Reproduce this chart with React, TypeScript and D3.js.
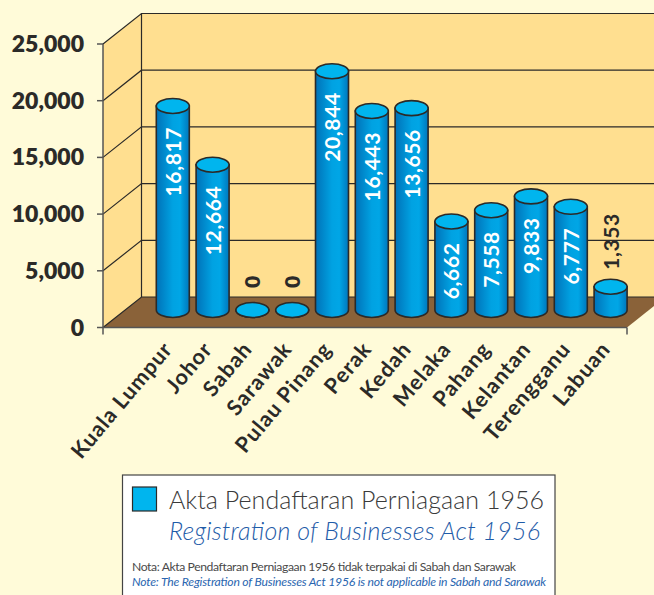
import React from "react";
import * as d3 from "d3";

// Region names and the printed labels
const categories = ["Kuala Lumpur", "Johor", "Sabah", "Sarawak", "Pulau Pinang", "Perak", "Kedah", "Melaka", "Pahang", "Kelantan", "Terengganu", "Labuan"];
const printedValues = [16817, 12664, 0, 0, 20844, 16443, 13656, 6662, 7558, 9833, 6777, 1353];
// The printed numbers do not agree with the drawn heights in the source; these are the drawn heights read against the axis
const drawnHeights = [17990, 12810, 0, 0, 21050, 17550, 17800, 7800, 8800, 10020, 9100, 2050];
const yTicks = [0, 5000, 10000, 15000, 20000, 25000];

const W = 654, H = 595;
const FONT = "Lato, 'Noto Sans', sans-serif";
const INK = "#2b2a28";

const depthX = 38.5, depthY = 30.5;
const frontX0 = 103, frontX1 = 627, frontY0 = 327.5;
const y = d3.scaleLinear().domain([0, 25000]).range([frontY0, frontY0 - 283.5]);
const barBase = frontY0 - 17.5; // bars stand in the middle of the floor
const x = d3.scalePoint<string>().domain(categories).range([172.8, 610.6]);
const rx = 16.5, ry = 7.5;
const fmt = d3.format(",");

export default function App() {
  const barY = (v: number) => y(v) - (frontY0 - barBase);
  const backX0 = frontX0 + depthX;
  const backX1 = frontX1 + depthX;
  const top = y(25000) - depthY;
  const bottom = y(0) - depthY;
  return (
    <svg width={W} height={H} style={{ position: "absolute", left: 0, top: 0, display: "block" }} fontFamily={FONT}>
      <defs>
        <linearGradient id="cyl" x1="0" x2="1" y1="0" y2="0">
          <stop offset="0" stopColor="#0072b8" />
          <stop offset="0.5" stopColor="#00a2e2" />
          <stop offset="0.72" stopColor="#00a6e6" />
          <stop offset="1" stopColor="#0076bc" />
        </linearGradient>
      </defs>
      <rect width={W} height={H} fill="#fffbd9" />
      {/* walls */}
      <path d={`M${frontX0},${y(25000)}L${backX0},${top}H${backX1}V${bottom}H${backX0}L${frontX0},${y(0)}Z`} fill="#ffdf90" stroke="none" />
      <path d={`M${frontX0},${y(0)}L${backX0},${bottom}H${backX1}L${frontX1},${y(0)}Z`} fill="#8a6239" stroke="none" />
      {yTicks.map((t) => (
        <g key={t}>
          <path d={`M${frontX0},${y(t)}L${backX0},${y(t) - depthY}H${W + 20}`} fill="none" stroke={INK} strokeWidth={1.2} />
          <line x1={frontX0 - 6} x2={frontX0} y1={y(t)} y2={y(t)} stroke="#555" strokeWidth={1.5} />
          <text x={84} y={y(t) + 8} textAnchor="end" fontSize={23} fontWeight={800} fill={INK}>{fmt(t)}</text>
        </g>
      ))}
      <line x1={backX0} x2={backX0} y1={top} y2={bottom} stroke={INK} strokeWidth={1.2} />
      <line x1={frontX0} x2={frontX0} y1={y(25000)} y2={y(0) + 7} stroke="#555" strokeWidth={1.5} />
      <line x1={frontX0} x2={frontX1} y1={y(0)} y2={y(0)} stroke="#555" strokeWidth={1.5} />
      <line x1={frontX1} x2={frontX1} y1={y(0)} y2={y(0) + 7} stroke="#555" strokeWidth={1.5} />
      {/* cylinders */}
      {categories.map((c, i) => {
        const cx = x(c)!;
        const ty = barY(drawnHeights[i]);
        const v = printedValues[i];
        const h = barBase - ty;
        return (
          <g key={c}>
            <path d={`M${cx - rx},${ty}V${barBase}A${rx},${ry} 0 0 0 ${cx + rx},${barBase}V${ty}Z`} fill={h > 0 ? "url(#cyl)" : "#00b5ee"} stroke={INK} strokeWidth={1.6} />
            <ellipse cx={cx} cy={ty} rx={rx} ry={ry} fill="#00b5ee" stroke={INK} strokeWidth={1.6} />
            {v === 0 ? (
              <text transform={`translate(${cx + 7.5},${ty - 28}) rotate(-90)`} textAnchor="middle" fontSize={21} fontWeight={800} fill={INK}>0</text>
            ) : v < 2000 ? (
              <text transform={`translate(${cx + 8},${ty - 17}) rotate(-90)`} textAnchor="start" fontSize={21} fontWeight={700} fill={INK} letterSpacing={0.6}>{fmt(v)}</text>
            ) : (
              <text transform={`translate(${cx + 8},${ty + 21}) rotate(-90)`} textAnchor="end" fontSize={21} fontWeight={700} fill="#fff" letterSpacing={0.6}>{fmt(v)}</text>
            )}
          </g>
        );
      })}
      {/* category labels */}
      {categories.map((c) => (
        <text key={c} transform={`translate(${x(c)! - 12},${339}) rotate(-50)`} textAnchor="end" dominantBaseline="hanging" fontSize={21.5} fontWeight={700} fill={INK} letterSpacing={1}>{c}</text>
      ))}
      {/* legend */}
      <rect x={122.5} y={475} width={432.5} height={130} fill="#fff" stroke="#444" strokeWidth={1.2} />
      <rect x={132.5} y={487} width={24} height={24} fill="#00b5ee" stroke={INK} strokeWidth={1.2} />
      <text x={169} y={509} fontSize={25} fill="#3a3a3a" fontWeight={300} textLength={375} lengthAdjust="spacing">Akta Pendaftaran Perniagaan 1956</text>
      <text x={169} y={540} fontSize={25} fill="#1f5ca8" fontStyle="italic" fontWeight={300} textLength={371} lengthAdjust="spacing">Registration of Businesses Act 1956</text>
      <text x={132} y={571} fontSize={12.2} fill="#4a4a4a" textLength={384}>Nota: Akta Pendaftaran Perniagaan 1956 tidak terpakai di Sabah dan Sarawak</text>
      <text x={132} y={586} fontSize={12.2} fill="#2a66b0" fontStyle="italic" textLength={414}>Note: The Registration of Businesses Act 1956 is not applicable in Sabah and Sarawak</text>
    </svg>
  );
}
